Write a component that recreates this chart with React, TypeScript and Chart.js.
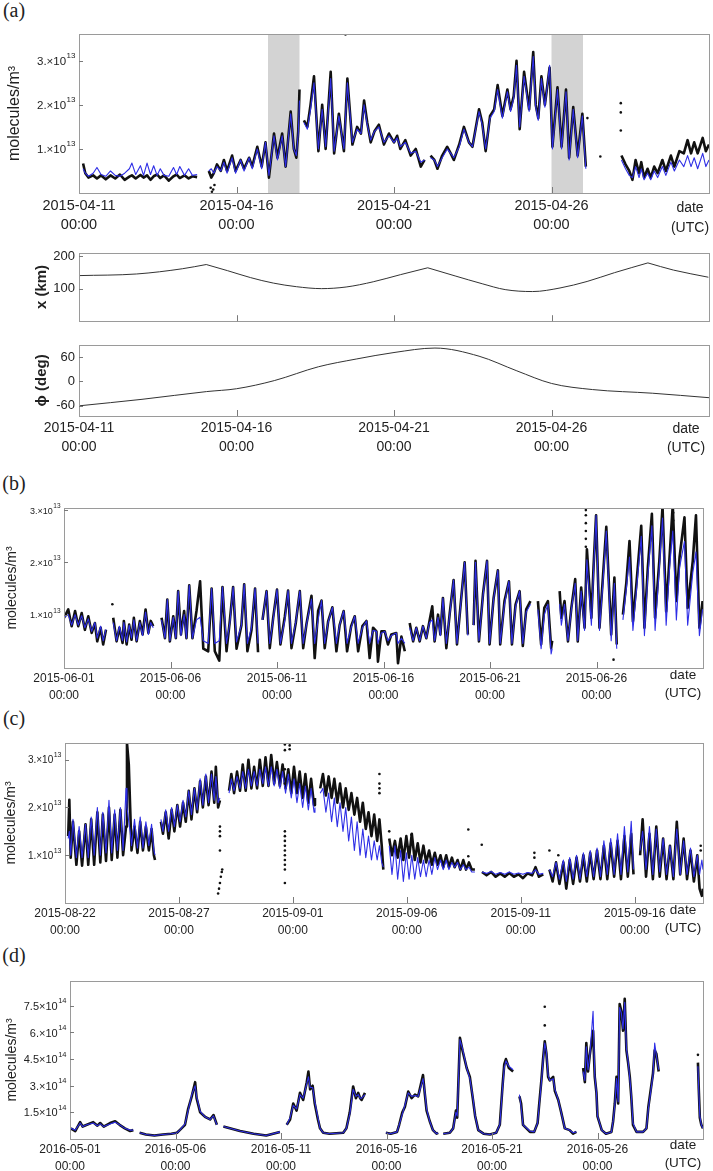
import React, { useEffect, useRef } from 'react';
import { Chart, registerables } from 'chart.js';

Chart.register(...registerables);

const FONT = "'Liberation Sans', Arial, Helvetica, sans-serif";
const SERIF = "'Liberation Serif', 'Times New Roman', serif";
const BLACK = '#111111';
const BLUE = '#2e2ee6';
const TEXT = '#222222';
const TICK_TIME = '00:00';

// ---------- (a) April 2015, values in 10^13 molecules/m^3, x in days from 2015-04-11 ----------
const aTickDays = [0, 5, 10, 15];
const aTickDates = ['2015-04-11', '2015-04-16', '2015-04-21', '2015-04-26'];
const aShade = [[6, 7], [15, 16]];
const aDays = [
  0.13, 0.2, 0.3, 0.45, 0.57, 0.7, 0.85, 1.0, 1.15, 1.3, 1.45, 1.6, 1.68, 1.8, 1.95, 2.05, 2.16, 2.27, 2.37, 2.48, 2.58, 2.7, 2.85, 3.0, 3.1, 3.2, 3.35, 3.48, 3.6, 3.75,
  3.9,
  4.12, 4.2, 4.28, 4.38, 4.5, 4.6, 4.7, 4.86, 4.97, 5.13, 5.24, 5.4, 5.5, 5.66, 5.8, 5.92, 6.03, 6.19, 6.3, 6.45, 6.56, 6.72, 6.82, 6.9, 6.96, 7.0,
  7.07,
  7.14, 7.25, 7.35, 7.46, 7.53, 7.6, 7.72, 7.83, 7.99, 8.1, 8.25, 8.41, 8.52, 8.68, 8.83, 8.95, 9.05, 9.15, 9.26, 9.38, 9.52, 9.68, 9.84, 10.0, 10.1, 10.2, 10.36, 10.53, 10.69, 10.85, 10.97,
  11.06,
  11.16, 11.28, 11.38, 11.53, 11.69, 11.8, 11.9, 12.07, 12.22, 12.38, 12.49, 12.7, 12.8, 12.91, 13.05, 13.18, 13.29, 13.44, 13.6, 13.7, 13.8, 13.89, 13.99, 14.13, 14.29, 14.42, 14.5, 14.58, 14.68, 14.79, 14.94, 15.03, 15.19, 15.32, 15.46, 15.56, 15.69, 15.83, 15.98, 16.09,
  16.6,
  17.22, 17.35, 17.47, 17.57, 17.67, 17.78, 17.85, 17.94, 18.05, 18.15, 18.26, 18.37, 18.52, 18.63, 18.79, 18.9, 19.06, 19.2, 19.32, 19.43, 19.53, 19.64, 19.8, 19.9, 20.0,
];
const aObs = [
  0.67, 0.45, 0.35, 0.40, 0.33, 0.40, 0.31, 0.40, 0.33, 0.42, 0.30, 0.37, 0.40, 0.33, 0.41, 0.35, 0.40, 0.30, 0.38, 0.42, 0.34, 0.40, 0.28, 0.38, 0.42, 0.34, 0.40, 0.33, 0.38, 0.36,
  null,
  0.5, 0.35, 0.45, 0.65, 0.5, 0.75, 0.5, 0.85, 0.5, 0.75, 0.55, 0.8, 0.6, 1.05, 0.6, 1.15, 0.35, 1.35, 0.8, 1.35, 0.6, 1.85, 1.0, 0.8, 1.4, 2.35,
  null,
  1.65, 1.5, 2.0, 2.65, 1.8, 0.95, 2.0, 1.0, 2.75, 0.9, 1.8, 0.95, 2.6, 1.1, 1.5, 1.35, 2.1, 1.6, 1.15, 1.4, 1.55, 1.1, 1.35, 1.15, 1.3, 1.0, 1.2, 0.85, 1.0, 0.6, 0.75,
  null,
  0.85, 0.75, 0.55, 0.85, 1.05, 0.9, 0.75, 1.1, 1.5, 1.15, 1.05, 1.9, 1.6, 0.95, 1.75, 1.9, 2.45, 1.75, 2.35, 1.9, 2.2, 3.0, 1.45, 2.75, 1.9, 3.2, 2.0, 1.7, 2.65, 2.0, 2.85, 1.05, 2.4, 1.05, 2.35, 0.8, 1.95, 0.85, 1.8, 0.6,
  null,
  0.85, 0.65, 0.5, 0.3, 0.75, 0.45, 0.7, 0.35, 0.55, 0.35, 0.6, 0.45, 0.75, 0.5, 0.85, 0.6, 0.95, 0.9, 1.2, 0.9, 1.15, 0.9, 1.25, 0.95, 1.1,
];
const aModel = [
  0.55, 0.45, 0.38, 0.45, 0.58, 0.42, 0.38, 0.50, 0.40, 0.38, 0.45, 0.55, 0.68, 0.42, 0.62, 0.40, 0.68, 0.42, 0.62, 0.40, 0.55, 0.40, 0.38, 0.58, 0.42, 0.60, 0.40, 0.55, 0.40, 0.42,
  null,
  0.5, 0.55, 0.45, 0.6, 0.5, 0.7, 0.45, 0.8, 0.45, 0.75, 0.5, 0.8, 0.55, 1.0, 0.55, 1.15, 0.4, 1.3, 0.75, 1.3, 0.6, 1.8, 1.0, 0.85, 1.35, 2.1,
  null,
  1.6, 1.45, 1.9, 2.5, 1.75, 1.0, 1.9, 1.05, 2.6, 0.95, 1.75, 1.0, 2.5, 1.15, 1.45, 1.35, 2.0, 1.55, 1.2, 1.4, 1.5, 1.15, 1.3, 1.15, 1.25, 1.05, 1.15, 0.9, 0.95, 0.7, 0.75,
  null,
  0.8, 0.75, 0.6, 0.8, 1.0, 0.9, 0.8, 1.05, 1.45, 1.15, 1.05, 1.85, 1.55, 1.0, 1.7, 1.85, 2.35, 1.7, 2.3, 1.85, 2.15, 2.9, 1.5, 2.65, 1.85, 3.1, 1.95, 1.65, 2.6, 1.95, 2.9, 1.0, 2.35, 1.0, 2.3, 0.75, 1.9, 0.8, 1.75, 0.55,
  null,
  0.75, 0.55, 0.4, 0.35, 0.6, 0.35, 0.55, 0.3, 0.45, 0.3, 0.5, 0.35, 0.6, 0.4, 0.7, 0.5, 0.75, 0.6, 0.85, 0.6, 0.8, 0.55, 0.9, 0.6, 0.75,
];
const aOutDays = [4.18, 4.22, 4.26, 4.3, 8.46, 16.14, 16.55, 17.2, 17.2, 17.2];
const aOutVals = [0.12, 0.03, 0.08, 0.18, 3.6, 1.7, 0.83, 2.04, 1.83, 1.42];

// distance x (km) and angle phi (deg) over the same April window
const kmDays = [0, 1.83, 3.28, 4.04, 4.04, 4.04, 4.72, 5.44, 6.17, 6.9, 7.7, 8.48, 9.34, 10.21, 11.07, 11.07, 11.07, 11.94, 12.8, 13.53, 14.4, 15.27, 16.13, 17.0, 18.06, 18.06, 18.06, 18.87, 19.98];
const kmVals = [140, 145, 161, 174, null, 174, 155, 134, 117, 106, 100, 105, 121, 143, 164, null, 164, 139, 115, 97, 91, 102, 122, 149, 179, null, 179, 157, 135];
const phiDays = [0, 2, 4.05, 5.0, 6.2, 7.6, 8.8, 10.0, 11.3, 12.7, 13.9, 15.0, 16.3, 18.2, 20.0];
const phiVals = [-60, -44, -25, -18, 2, 36, 55, 71, 82, 62, 26, -5, -20, -29, -40];

// ---------- (b) June 2015, 10^13 molecules/m^3 ----------
const bTickDays = [0, 5, 10, 15, 20, 25];
const bTickDates = ['2015-06-01', '2015-06-06', '2015-06-11', '2015-06-16', '2015-06-21', '2015-06-26'];
const bDays = [
  0, 0.2, 0.36, 0.52, 0.67, 0.83, 0.98, 1.14, 1.3, 1.45, 1.56, 1.72, 1.84, 1.97,
  2.1,
  2.31, 2.47, 2.6, 2.75, 2.81, 2.94, 3.06, 3.17, 3.28, 3.41, 3.56, 3.69, 3.83, 3.96, 4.07, 4.19,
  4.35,
  4.58, 4.74, 4.85, 4.97, 5.13, 5.25, 5.36, 5.49, 5.64, 5.75, 5.88, 6.03, 6.22, 6.39, 6.54, 6.77, 6.93, 7.08, 7.29, 7.44, 7.63, 7.79, 7.94, 8.1, 8.33, 8.46, 8.61, 8.8, 8.97, 9.11,
  9.22,
  9.32, 9.51, 9.66, 9.82, 10.0, 10.16, 10.37, 10.52, 10.68, 10.88, 11.07, 11.23, 11.38, 11.62, 11.77, 11.93, 12.09, 12.24, 12.4, 12.6, 12.79, 12.94, 13.13, 13.29, 13.48, 13.65, 13.81, 14.01, 14.2, 14.35, 14.51, 14.67, 14.74, 14.9, 15.06, 15.21, 15.37, 15.6, 15.68, 15.84, 16.0,
  16.1,
  16.23, 16.39, 16.54, 16.7, 16.85, 17.01, 17.16, 17.29, 17.4, 17.56, 17.67, 17.79, 17.95, 18.11, 18.29, 18.45, 18.65, 18.81, 18.96,
  19.1,
  19.23, 19.32, 19.48, 19.67, 19.86, 19.98, 20.17, 20.37, 20.48, 20.68, 20.89, 21.03, 21.2, 21.39, 21.54, 21.7, 21.9,
  22.05,
  22.25, 22.4, 22.55, 22.72, 22.87, 22.92,
  23.1,
  23.27, 23.35, 23.5, 23.66, 23.82, 24.0, 24.12, 24.28, 24.44, 24.55, 24.76, 24.86, 24.98, 25.14, 25.3, 25.46, 25.69, 25.84, 25.95,
  26.1,
  26.24, 26.4, 26.55, 26.71, 26.86, 27.1, 27.25, 27.41, 27.6, 27.75, 27.95, 28.1, 28.27, 28.43, 28.58, 28.75, 28.9, 29.13, 29.28, 29.52, 29.67, 29.83, 29.98,
];
const bObs = [
  0.94, 1.1, 0.78, 1.07, 0.78, 1.03, 0.71, 0.97, 0.65, 0.84, 0.49, 0.75, 0.43, 0.71,
  null,
  0.94, 0.49, 0.75, 0.46, 0.88, 0.43, 0.81, 0.52, 0.94, 0.49, 0.88, 0.62, 1.1, 0.65, 0.88, 0.78,
  null,
  0.94, 0.55, 1.29, 0.49, 0.97, 0.55, 1.45, 0.62, 1.07, 0.55, 1.56, 0.55, 1.07, 1.64, 0.35, 0.3, 1.5, 0.3, 0.12, 1.53, 0.3, 0.9, 1.53, 0.35, 0.8, 1.58, 0.3, 0.7, 1.5, 0.28,
  null,
  0.9, 1.45, 0.36, 0.94, 1.48, 0.43, 0.97, 1.46, 0.36, 0.84, 1.45, 0.36, 0.81, 1.36, 0.17, 1.07, 1.27, 0.36, 0.87, 1.14, 0.3, 0.8, 1.07, 0.3, 0.78, 0.97, 0.3, 0.78, 0.88, 0.17, 0.75, 0.68, 0.1, 0.68, 0.68, 0.43, 0.62, 0.65, 0.07, 0.58, 0.3,
  null,
  0.84, 0.49, 0.75, 0.49, 0.78, 0.55, 0.88, 1.16, 0.49, 1.0, 0.62, 1.32, 0.36, 1.03, 1.66, 0.43, 1.32, 2.0, 0.62,
  null,
  0.8, 2.03, 0.49, 1.39, 2.03, 0.43, 1.32, 1.85, 0.43, 1.26, 1.64, 0.43, 1.19, 1.45, 0.4, 1.1, 1.26,
  null,
  1.26, 0.43, 1.13, 1.26, 0.36, 0.5,
  null,
  1.45, 0.94, 1.26, 0.49, 1.13, 1.68, 0.49, 1.52, 0.75, 2.25, 0.94, 1.9, 2.9, 0.75, 1.71, 2.68, 0.62, 1.71, 0.43,
  null,
  1.0, 1.61, 2.41, 0.87, 1.52, 2.7, 0.75, 1.9, 2.93, 0.94, 2.03, 3.07, 1.06, 2.1, 3.1, 1.26, 2.1, 2.86, 1.13, 2.03, 2.9, 0.75, 1.26,
];
const bModel = [
  0.95, 1.0, 0.8, 1.0, 0.8, 0.98, 0.75, 0.92, 0.68, 0.85, 0.55, 0.78, 0.5, 0.72,
  null,
  0.85, 0.5, 0.78, 0.5, 0.85, 0.48, 0.8, 0.55, 0.9, 0.5, 0.85, 0.6, 1.05, 0.62, 0.85, 0.75,
  null,
  0.9, 0.55, 1.29, 0.5, 0.95, 0.55, 1.45, 0.6, 1.0, 0.55, 1.56, 0.55, 0.9, 0.95, 0.5, 0.45, 1.5, 0.45, 0.5, 1.53, 0.45, 0.85, 1.53, 0.48, 0.8, 1.58, 0.45, 0.75, 1.5, 0.45,
  null,
  0.9, 1.45, 0.45, 0.9, 1.48, 0.45, 0.9, 1.46, 0.45, 0.85, 1.45, 0.45, 0.8, 1.3, 0.45, 0.9, 1.27, 0.45, 0.85, 1.14, 0.45, 0.8, 1.07, 0.45, 0.75, 0.97, 0.45, 0.75, 0.88, 0.45, 0.7, 0.68, 0.45, 0.65, 0.68, 0.5, 0.6, 0.65, 0.45, 0.55, 0.45,
  null,
  0.75, 0.5, 0.75, 0.5, 0.78, 0.55, 0.85, 0.9, 0.5, 0.95, 0.6, 1.32, 0.45, 1.0, 1.66, 0.45, 1.3, 2.0, 0.6,
  null,
  0.8, 2.0, 0.5, 1.35, 2.03, 0.45, 1.3, 1.85, 0.45, 1.2, 1.64, 0.45, 1.15, 1.45, 0.45, 1.05, 1.2,
  null,
  1.1, 0.35, 1.0, 1.2, 0.25, 0.35,
  null,
  1.2, 0.8, 1.2, 0.5, 1.1, 1.6, 0.5, 1.45, 0.7, 2.05, 0.8, 1.8, 2.9, 0.7, 1.6, 2.6, 0.5, 1.6, 0.35,
  null,
  0.9, 1.5, 2.1, 0.7, 1.4, 2.5, 0.6, 1.75, 2.7, 0.7, 1.9, 2.85, 0.8, 1.9, 2.6, 0.9, 1.9, 2.4, 0.8, 1.8, 2.2, 0.6, 1.1,
];
const bOutDays = [2.27, 24.5, 24.5, 24.5, 24.5, 24.5, 24.5, 25.8, 28.6, 28.6];
const bOutVals = [1.2, 2.3, 2.45, 2.6, 2.75, 2.9, 3.0, 0.14, 2.8, 2.95];

// ---------- (c) August-September 2015, 10^13 molecules/m^3 ----------
const cTickDays = [0, 5, 10, 15, 20, 25];
const cTickDates = ['2015-08-22', '2015-08-27', '2015-09-01', '2015-09-06', '2015-09-11', '2015-09-16'];
const cDays = [
  0.14, 0.19, 0.25, 0.35, 0.5, 0.62, 0.75, 0.9, 1.02, 1.15, 1.28, 1.42, 1.55, 1.66, 1.8, 1.93, 2.05, 2.18, 2.3, 2.43, 2.55, 2.68, 2.72, 2.8, 2.86, 2.92, 3.05, 3.18, 3.3, 3.42, 3.55, 3.68, 3.8, 3.9, 3.95,
  4.05,
  4.21, 4.3, 4.42, 4.55, 4.68, 4.8, 4.93, 5.05, 5.18, 5.3, 5.43, 5.55, 5.68, 5.8, 5.93, 6.05, 6.18, 6.3, 6.43, 6.55, 6.62, 6.72, 6.8,
  6.95,
  7.2, 7.3, 7.42, 7.55, 7.68, 7.8, 7.93, 8.05, 8.18, 8.3, 8.43, 8.55, 8.68, 8.8, 8.93, 9.05, 9.18, 9.3, 9.43, 9.55, 9.68, 9.8, 9.93, 10.05, 10.18, 10.3, 10.43, 10.55, 10.68, 10.8, 10.93, 10.97,
  11.08,
  11.2, 11.32, 11.45, 11.57, 11.7, 11.82, 11.95, 12.07, 12.2, 12.32, 12.45, 12.57, 12.7, 12.82, 12.95, 13.07, 13.2, 13.32, 13.45, 13.57, 13.7, 13.8, 13.9, 13.97,
  14.1,
  14.23, 14.35, 14.48, 14.6, 14.73, 14.85, 14.98, 15.1, 15.22, 15.35, 15.48, 15.6, 15.73, 15.85, 15.98, 16.1, 16.23, 16.35, 16.48, 16.6, 16.73, 16.85, 16.98, 17.1, 17.23, 17.35, 17.48, 17.6, 17.73, 17.85, 17.99,
  18.1,
  18.3, 18.5, 18.7, 18.9, 19.1, 19.3, 19.5, 19.7, 19.9, 20.1, 20.3, 20.5, 20.65, 20.8, 20.99,
  21.1,
  21.26, 21.4, 21.55, 21.7, 21.87, 22.0, 22.15, 22.3, 22.45, 22.6, 22.75, 22.9, 23.05, 23.2, 23.35, 23.5, 23.65, 23.8, 23.95, 24.1, 24.25, 24.4, 24.55, 24.7, 24.85, 24.95,
  25.1,
  25.24, 25.35, 25.5, 25.65, 25.8, 25.95, 26.1, 26.25, 26.4, 26.55, 26.7, 26.85, 27.0, 27.15, 27.3, 27.45, 27.6, 27.75, 27.85, 27.95, 28.0,
];
const cObs = [
  1.4, 2.16, 0.95, 1.7, 0.8, 1.5, 0.78, 1.65, 0.8, 1.75, 0.8, 1.9, 0.85, 1.85, 0.88, 2.0, 0.9, 1.85, 0.95, 1.95, 1.0, 1.6, 3.35, 2.9, 2.0, 1.1, 1.6, 1.05, 1.7, 1.1, 1.6, 1.1, 1.55, 1.0, 0.9,
  null,
  1.7, 1.45, 1.9, 1.35, 1.95, 1.5, 2.05, 1.6, 2.1, 1.7, 2.35, 1.75, 2.4, 1.9, 2.55, 2.0, 2.65, 2.05, 2.75, 2.1, 2.85, 2.0, 2.15,
  null,
  2.35, 2.7, 2.3, 2.75, 2.35, 2.9, 2.35, 3.0, 2.4, 2.85, 2.4, 3.0, 2.45, 3.05, 2.45, 3.1, 2.5, 2.95, 2.45, 2.9, 2.4, 2.8, 2.3, 2.85, 2.3, 2.75, 2.2, 2.7, 2.1, 2.6, 2.05, 2.2,
  null,
  2.4, 2.7, 2.25, 2.65, 2.2, 2.6, 2.1, 2.5, 2.0, 2.4, 1.95, 2.3, 1.85, 2.2, 1.7, 2.1, 1.55, 1.9, 1.4, 1.85, 1.3, 1.75, 1.2, 0.7,
  null,
  1.35, 1.0, 1.3, 0.95, 1.35, 0.9, 1.4, 0.95, 1.45, 0.9, 1.25, 0.85, 1.2, 0.85, 1.1, 0.8, 1.05, 0.8, 1.0, 0.75, 1.0, 0.75, 0.95, 0.75, 0.9, 0.7, 0.9, 0.7, 0.85, 0.7, 0.7,
  null,
  0.65, 0.58, 0.65, 0.55, 0.62, 0.55, 0.63, 0.55, 0.6, 0.52, 0.62, 0.58, 0.75, 0.55, 0.6,
  null,
  0.7, 0.45, 0.85, 0.4, 0.85, 0.3, 0.9, 0.4, 0.95, 0.45, 1.0, 0.45, 1.05, 0.5, 1.1, 0.5, 1.2, 0.5, 1.25, 0.55, 1.3, 0.5, 1.4, 0.55, 1.45, 0.6,
  null,
  1.0, 1.75, 0.55, 1.45, 0.5, 1.6, 0.55, 1.35, 0.5, 1.2, 0.5, 1.7, 0.6, 1.35, 0.5, 1.1, 0.45, 1.0, 0.3, 0.15, 0.3,
];
const cModel = [
  1.35, 1.5, 1.0, 1.75, 0.95, 1.6, 0.95, 1.65, 0.95, 1.8, 1.0, 2.0, 1.0, 1.9, 1.05, 2.15, 1.05, 1.95, 1.1, 2.0, 1.1, 2.4, 2.0, 1.7, 1.5, 1.2, 1.75, 1.15, 1.8, 1.15, 1.7, 1.2, 1.65, 1.1, 1.0,
  null,
  1.75, 1.5, 1.95, 1.5, 2.0, 1.6, 2.05, 1.7, 2.15, 1.8, 2.35, 1.85, 2.4, 1.95, 2.6, 2.05, 2.7, 2.1, 2.7, 2.15, 2.65, 2.1, 2.2,
  null,
  2.3, 2.6, 2.35, 2.65, 2.4, 2.75, 2.4, 2.8, 2.45, 2.75, 2.45, 2.8, 2.5, 2.85, 2.45, 2.85, 2.45, 2.8, 2.4, 2.75, 2.3, 2.7, 2.2, 2.6, 2.1, 2.5, 2.0, 2.45, 1.95, 2.4, 1.9, 2.0,
  null,
  2.3, 2.4, 1.9, 2.3, 1.7, 2.2, 1.6, 2.1, 1.5, 2.0, 1.3, 1.8, 1.1, 1.7, 1.0, 1.55, 0.95, 1.4, 0.9, 1.3, 0.9, 1.2, 0.85, 0.75,
  null,
  1.2, 0.6, 1.2, 0.5, 1.1, 0.45, 1.05, 0.5, 1.0, 0.5, 0.95, 0.55, 0.9, 0.55, 0.9, 0.6, 0.95, 0.7, 0.9, 0.7, 0.9, 0.7, 0.85, 0.75, 0.85, 0.7, 0.8, 0.7, 0.75, 0.65, 0.65,
  null,
  0.65, 0.62, 0.66, 0.6, 0.64, 0.6, 0.65, 0.6, 0.63, 0.6, 0.64, 0.62, 0.7, 0.6, 0.62,
  null,
  0.7, 0.55, 0.85, 0.5, 0.9, 0.45, 0.95, 0.5, 1.0, 0.5, 1.05, 0.55, 1.1, 0.55, 1.15, 0.55, 1.3, 0.6, 1.35, 0.6, 1.45, 0.6, 1.6, 0.65, 1.71, 0.7,
  null,
  1.1, 1.5, 0.7, 1.6, 0.6, 1.55, 0.65, 1.35, 0.6, 1.2, 0.55, 1.55, 0.6, 1.3, 0.6, 1.15, 0.55, 1.0, 0.6, 0.9, 0.7,
];
const cOutDays = [
  6.72, 6.76, 6.8, 6.84, 6.88, 6.9, 6.8, 6.8, 6.8, 6.8,
  9.65, 9.65, 9.65, 9.65, 9.65, 9.65, 9.65, 9.65, 9.65, 9.65, 9.65, 9.65, 9.65, 9.65, 9.86, 9.86,
  13.8, 13.8, 13.8, 13.8, 14.23, 15.2, 17.7, 17.7, 18.29, 20.6, 20.6, 21.26, 21.65, 27.9, 27.9,
];
const cOutVals = [
  0.2, 0.3, 0.42, 0.55, 0.65, 0.7, 1.1, 1.4, 1.5, 1.6,
  3.32, 3.2, 2.8, 2.5, 1.5, 1.4, 1.3, 1.2, 1.1, 1.0, 0.9, 0.8, 0.7, 0.42, 3.3, 3.22,
  2.7, 2.5, 2.4, 2.3, 1.5, 1.43, 1.54, 0.98, 1.22, 1.05, 0.95, 1.1, 1.0, 1.1, 1.2,
];

// ---------- (d) May 2016, 10^14 molecules/m^3 ----------
const dTickDays = [0, 5, 10, 15, 20, 25];
const dTickDates = ['2016-05-01', '2016-05-06', '2016-05-11', '2016-05-16', '2016-05-21', '2016-05-26'];
const dDays = [
  0.04, 0.25, 0.48, 0.6, 0.8, 1.1, 1.3, 1.43, 1.6, 1.9, 2.14, 2.35, 2.6, 2.85, 3.0,
  3.15,
  3.3, 3.6, 4.0, 4.4, 4.8, 5.07, 5.2, 5.45, 5.6, 5.77, 5.93, 6.0, 6.17, 6.4, 6.64, 6.8, 6.96,
  7.1,
  7.27, 7.75, 8.06, 8.7, 9.3, 9.95,
  10.1,
  10.27, 10.43, 10.58, 10.74, 10.9, 11.05, 11.22, 11.3, 11.38, 11.5, 11.6, 11.75, 11.85, 12.0, 12.3, 12.95, 13.1, 13.26, 13.42, 13.55, 13.66, 13.75, 13.82, 13.98,
  14.4,
  14.97, 15.2, 15.5, 15.6, 15.75, 15.87, 16.03, 16.19, 16.35, 16.5, 16.73, 16.82, 16.9, 17.05, 17.2, 17.37, 17.45,
  17.55,
  17.69, 18.0, 18.16, 18.29, 18.35, 18.48, 18.6, 18.8, 18.95, 19.1, 19.2, 19.35, 19.6, 19.9, 20.2, 20.37, 20.5, 20.58, 20.66, 20.8, 21.0,
  21.15,
  21.3, 21.38, 21.47, 21.8, 22.0, 22.16, 22.24, 22.34, 22.42, 22.5, 22.58, 22.66, 22.74, 22.9, 22.98, 23.14, 23.28, 23.45, 23.68, 23.84, 24.0,
  24.15,
  24.32, 24.4, 24.47, 24.55, 24.63, 24.79, 24.87, 24.95, 25.0, 25.2, 25.4, 25.66, 25.74, 25.82, 25.9, 25.98, 26.05, 26.13, 26.21, 26.29, 26.37, 26.45, 26.53, 26.6, 26.68, 26.85, 27.16, 27.32, 27.41, 27.63, 27.71, 27.79, 27.9,
  28.0,
  29.76, 29.8, 29.85, 29.92, 30.0,
];
const dObs = [
  0.6, 0.45, 0.95, 0.7, 0.8, 0.95, 0.75, 0.9, 0.7, 0.9, 1.0, 0.8, 0.6, 0.45, 0.5,
  null,
  0.35, 0.25, 0.2, 0.25, 0.3, 0.35, 0.5, 0.8, 1.7, 2.4, 3.2, 2.3, 1.5, 1.25, 1.1, 1.35, 0.8,
  null,
  0.7, 0.55, 0.45, 0.3, 0.2, 0.4,
  null,
  0.8, 1.1, 2.0, 1.6, 2.6, 2.2, 3.2, 3.8, 2.8, 3.0, 2.0, 1.1, 0.6, 0.35, 0.3, 0.35, 0.6, 1.5, 2.96, 2.3, 2.6, 2.3, 2.2, 2.6,
  null,
  0.35, 0.3, 0.4, 0.8, 1.5, 1.8, 2.67, 2.3, 2.5, 2.4, 3.6, 2.5, 1.6, 1.0, 0.5, 0.3, 0.35,
  null,
  0.3, 0.35, 0.6, 1.6, 1.2, 5.7, 5.0, 4.0, 3.5, 2.2, 1.3, 0.5, 0.3, 0.25, 0.35, 0.8, 3.0, 4.2, 4.5, 4.0, 3.8,
  null,
  2.4, 2.0, 0.8, 0.4, 0.4, 0.9, 2.0, 3.3, 4.5, 5.5, 4.8, 3.5, 3.3, 3.5, 2.7, 2.2, 1.5, 0.6, 0.5, 0.3, 0.4,
  null,
  4.0, 3.2, 5.4, 3.8, 4.7, 6.1, 3.5, 2.6, 1.27, 0.5, 0.3, 0.4, 1.0, 2.0, 3.5, 2.0, 7.6, 7.2, 6.1, 7.9, 5.0, 4.3, 3.5, 2.4, 0.8, 0.4, 0.4, 0.6, 1.8, 3.7, 5.0, 4.8, 3.8,
  null,
  4.3, 2.8, 1.2, 0.8, 0.6,
];
const dModel = [
  0.6, 0.5, 0.9, 0.7, 0.8, 0.9, 0.75, 0.85, 0.7, 0.85, 0.95, 0.8, 0.6, 0.5, 0.5,
  null,
  0.35, 0.25, 0.2, 0.25, 0.3, 0.35, 0.5, 0.85, 1.6, 2.5, 3.0, 2.4, 1.55, 1.25, 1.1, 1.3, 0.8,
  null,
  0.7, 0.55, 0.45, 0.3, 0.2, 0.4,
  null,
  0.8, 1.2, 1.9, 1.7, 2.5, 2.3, 3.1, 3.5, 2.9, 2.9, 2.1, 1.2, 0.6, 0.35, 0.3, 0.35, 0.6, 1.4, 2.8, 2.4, 2.5, 2.3, 2.3, 2.5,
  null,
  0.35, 0.3, 0.4, 0.8, 1.4, 1.9, 2.6, 2.4, 2.45, 2.4, 3.4, 2.6, 1.7, 1.0, 0.5, 0.3, 0.35,
  null,
  0.3, 0.35, 0.6, 1.5, 1.3, 5.6, 5.1, 4.0, 3.4, 2.3, 1.3, 0.5, 0.3, 0.25, 0.35, 0.8, 2.9, 4.0, 4.4, 4.1, 3.9,
  null,
  2.5, 1.8, 0.8, 0.45, 0.4, 0.9, 1.9, 3.2, 4.4, 5.4, 4.9, 3.6, 3.3, 3.4, 2.8, 2.2, 1.5, 0.6, 0.5, 0.35, 0.4,
  null,
  3.8, 3.3, 5.2, 3.9, 4.6, 7.2, 3.6, 2.6, 1.3, 0.5, 0.3, 0.4, 1.0, 1.9, 3.4, 2.1, 7.4, 7.1, 6.2, 7.7, 5.1, 4.4, 3.4, 2.5, 0.9, 0.4, 0.4, 0.6, 1.7, 3.6, 5.4, 4.7, 3.9,
  null,
  4.1, 2.7, 1.3, 0.8, 0.6,
];
const dOutDays = [22.5, 22.5, 29.76];
const dOutVals = [7.45, 6.4, 4.74];

// ---------- drawing helpers ----------
type Sci = { values: number[]; mantissas: string[]; exp: string; base: number; sup: number };

interface PanelSpec {
  top: number;
  height: number;
  area: { l: number; t: number; r: number; b: number };
  xMax: number;
  tickDays: number[];
  tickDates: string[] | null;
  xFont: number;
  yMin: number;
  yMax: number;
  yTicks: number[];
  yTickFont: number;
  sci: Sci | null;
  yTitle: string;
  yTitleFont: number;
  yTitleBold: boolean;
  yTitlePad: number;
  shade: number[][] | null;
  datasets: any[];
}

function pts(days: number[], vals: (number | null)[]) {
  return days.map((d, i) => ({ x: d, y: vals[i] ?? null }));
}

function measurementSets(days: number[], obs: (number | null)[], model: (number | null)[], outDays: number[], outVals: number[]) {
  return [
    { data: pts(outDays, outVals), showLine: false, pointRadius: 1.3, pointBorderWidth: 0, pointBackgroundColor: BLACK, borderColor: BLACK, order: 0 },
    { data: pts(days, model), borderColor: BLUE, borderWidth: 1.1, pointRadius: 0, borderJoinStyle: 'round', order: 1 },
    { data: pts(days, obs), borderColor: BLACK, borderWidth: 2.6, pointRadius: 0, borderJoinStyle: 'round', order: 2 },
  ];
}

function curveSet(days: number[], vals: (number | null)[]) {
  return [{ data: pts(days, vals), borderColor: '#333', borderWidth: 1, pointRadius: 0, cubicInterpolationMode: 'monotone', tension: 0.4 }];
}

const framePlugin = {
  id: 'frame',
  beforeDatasetsDraw(chart: any, _args: any, o: any) {
    if (!o.shade) return;
    const { ctx, chartArea: a, scales } = chart;
    ctx.save();
    ctx.fillStyle = '#d3d3d3';
    for (const [s, e] of o.shade) {
      const x1 = scales.x.getPixelForValue(s);
      const x2 = scales.x.getPixelForValue(e);
      ctx.fillRect(x1, a.top, x2 - x1, a.bottom - a.top);
    }
    ctx.restore();
  },
  afterDraw(chart: any, _args: any, o: any) {
    const { ctx, chartArea: a, scales } = chart;
    ctx.save();
    ctx.lineWidth = 1;
    ctx.strokeStyle = '#9a9a9a';
    ctx.strokeRect(Math.round(a.left) + 0.5, Math.round(a.top) + 0.5, Math.round(a.right - a.left), Math.round(a.bottom - a.top));
    ctx.strokeStyle = '#7a7a7a';
    ctx.beginPath();
    for (const d of o.xTicks) {
      if (d <= scales.x.min || d >= scales.x.max) continue;
      const px = Math.round(scales.x.getPixelForValue(d)) + 0.5;
      ctx.moveTo(px, a.bottom);
      ctx.lineTo(px, a.bottom - 6);
    }
    for (const v of o.yTicks) {
      const py = Math.round(scales.y.getPixelForValue(v)) + 0.5;
      ctx.moveTo(a.left, py);
      ctx.lineTo(a.left + 4, py);
    }
    ctx.stroke();
    const sci: Sci | null = o.sci;
    if (sci) {
      ctx.fillStyle = TEXT;
      ctx.textBaseline = 'middle';
      ctx.textAlign = 'left';
      sci.values.forEach((v, i) => {
        const py = scales.y.getPixelForValue(v);
        const baseText = sci.mantissas[i] + '\u00d710';
        ctx.font = `${sci.base}px ${FONT}`;
        const wb = ctx.measureText(baseText).width;
        ctx.font = `${sci.sup}px ${FONT}`;
        const ws = ctx.measureText(sci.exp).width;
        const x0 = a.left - 4 - ws - wb;
        ctx.font = `${sci.base}px ${FONT}`;
        ctx.fillText(baseText, x0, py + 1);
        ctx.font = `${sci.sup}px ${FONT}`;
        ctx.fillText(sci.exp, x0 + wb + 0.5, py - sci.base * 0.42);
      });
    }
    ctx.restore();
  },
};

function buildChart(canvas: HTMLCanvasElement, s: PanelSpec) {
  return new Chart(canvas, {
    type: 'line',
    data: { datasets: s.datasets },
    options: {
      responsive: false,
      animation: false,
      devicePixelRatio: 1,
      events: [],
      layout: { padding: { top: s.area.t - s.top, right: 713 - s.area.r, left: 0, bottom: 0 } },
      plugins: {
        legend: { display: false },
        tooltip: { enabled: false },
        frame: { shade: s.shade, xTicks: s.tickDays, yTicks: s.yTicks, sci: s.sci },
      },
      scales: {
        x: {
          type: 'linear',
          min: 0,
          max: s.xMax,
          grid: { display: false, drawTicks: false },
          border: { display: false },
          afterBuildTicks: (sc: any) => {
            sc.ticks = s.tickDays.map((v) => ({ value: v }));
          },
          afterFit: (sc: any) => {
            sc.height = s.top + s.height - s.area.b;
          },
          ticks: {
            display: !!s.tickDates,
            autoSkip: false,
            maxRotation: 0,
            minRotation: 0,
            padding: 3,
            color: TEXT,
            font: { family: FONT, size: s.xFont, lineHeight: 1.35 },
            callback: (v: any) => {
              const i = s.tickDays.indexOf(Number(v));
              return i >= 0 && s.tickDates ? [s.tickDates[i], TICK_TIME] : '';
            },
          },
        },
        y: {
          type: 'linear',
          min: s.yMin,
          max: s.yMax,
          grid: { display: false, drawTicks: false },
          border: { display: false },
          afterBuildTicks: (sc: any) => {
            sc.ticks = s.yTicks.map((v) => ({ value: v }));
          },
          afterFit: (sc: any) => {
            sc.width = s.area.l;
          },
          ticks: {
            display: !s.sci,
            padding: 4,
            color: TEXT,
            font: { family: FONT, size: s.yTickFont },
          },
          title: {
            display: true,
            text: s.yTitle,
            color: TEXT,
            padding: { top: s.yTitlePad, bottom: 0 },
            font: { family: FONT, size: s.yTitleFont, weight: s.yTitleBold ? 'bold' : 'normal', lineHeight: 1.2 },
          },
        },
      },
    } as any,
    plugins: [framePlugin as any],
  });
}

const MOL = 'molecules/m\u00b3';

const panels: PanelSpec[] = [
  {
    top: 22, height: 218, area: { l: 79, t: 34, r: 709, b: 193 }, xMax: 20,
    tickDays: aTickDays, tickDates: aTickDates, xFont: 14.5,
    yMin: 0, yMax: 3.61, yTicks: [1, 2, 3], yTickFont: 12,
    sci: { values: [1, 2, 3], mantissas: ['1.', '2.', '3.'], exp: '13', base: 11.5, sup: 8 },
    yTitle: MOL, yTitleFont: 16, yTitleBold: false, yTitlePad: 5, shade: aShade,
    datasets: measurementSets(aDays, aObs, aModel, aOutDays, aOutVals),
  },
  {
    top: 241, height: 92, area: { l: 79, t: 249, r: 709, b: 328 }, xMax: 20,
    tickDays: aTickDays, tickDates: null, xFont: 14,
    yMin: 0, yMax: 210, yTicks: [100, 200], yTickFont: 13, sci: null,
    yTitle: 'x (km)', yTitleFont: 15, yTitleBold: true, yTitlePad: 33, shade: null,
    datasets: curveSet(kmDays, kmVals),
  },
  {
    top: 333, height: 122, area: { l: 79, t: 338, r: 709, b: 416 }, xMax: 20,
    tickDays: aTickDays, tickDates: aTickDates, xFont: 14,
    yMin: -85, yMax: 90, yTicks: [-60, 0, 60], yTickFont: 13, sci: null,
    yTitle: '\u03d5 (deg)', yTitleFont: 15, yTitleBold: true, yTitlePad: 33, shade: null,
    datasets: curveSet(phiDays, phiVals),
  },
  {
    top: 498, height: 205, area: { l: 64, t: 508, r: 703, b: 668 }, xMax: 30,
    tickDays: bTickDays, tickDates: bTickDates, xFont: 12,
    yMin: -0.02, yMax: 3.04, yTicks: [1, 2, 3], yTickFont: 10,
    sci: { values: [1, 2, 3], mantissas: ['1.', '2.', '3.'], exp: '13', base: 9, sup: 6.5 },
    yTitle: MOL, yTitleFont: 14, yTitleBold: false, yTitlePad: 4, shade: null,
    datasets: measurementSets(bDays, bObs, bModel, bOutDays, bOutVals),
  },
  {
    top: 733, height: 205, area: { l: 65, t: 743, r: 703, b: 903 }, xMax: 28,
    tickDays: cTickDays, tickDates: cTickDates, xFont: 12,
    yMin: 0, yMax: 3.35, yTicks: [1, 2, 3], yTickFont: 10,
    sci: { values: [1, 2, 3], mantissas: ['1.', '2.', '3.'], exp: '13', base: 10, sup: 7 },
    yTitle: MOL, yTitleFont: 14, yTitleBold: false, yTitlePad: 3, shade: null,
    datasets: measurementSets(cDays, cObs, cModel, cOutDays, cOutVals),
  },
  {
    top: 970, height: 200, area: { l: 70, t: 981, r: 703, b: 1139 }, xMax: 30,
    tickDays: dTickDays, tickDates: dTickDates, xFont: 12,
    yMin: 0, yMax: 8.9, yTicks: [1.5, 3, 4.5, 6, 7.5], yTickFont: 10,
    sci: { values: [1.5, 3, 4.5, 6, 7.5], mantissas: ['1.5', '3.', '4.5', '6.', '7.5'], exp: '14', base: 11, sup: 7.5 },
    yTitle: MOL, yTitleFont: 14, yTitleBold: false, yTitlePad: 4, shade: null,
    datasets: measurementSets(dDays, dObs, dModel, dOutDays, dOutVals),
  },
];

const panelLetters = [
  { text: '(a)', x: 14, y: 10 },
  { text: '(b)', x: 14, y: 483 },
  { text: '(c)', x: 14, y: 718 },
  { text: '(d)', x: 14, y: 955 },
];

const dateNotes = [
  { x: 690, y1: 207, y2: 227, size: 14 },
  { x: 686, y1: 428, y2: 447, size: 14 },
  { x: 683, y1: 675, y2: 693, size: 13.5 },
  { x: 683, y1: 910, y2: 928, size: 13.5 },
  { x: 683, y1: 1145, y2: 1163, size: 13.5 },
];

function PanelChart({ spec }: { spec: PanelSpec }) {
  const ref = useRef<HTMLCanvasElement>(null);
  useEffect(() => {
    if (!ref.current) return;
    const chart = buildChart(ref.current, spec);
    return () => chart.destroy();
  }, [spec]);
  return (
    <canvas
      ref={ref}
      width={713}
      height={spec.height}
      style={{ position: 'absolute', left: 0, top: spec.top, width: 713, height: spec.height }}
    />
  );
}

function Label({ text, x, y, size, family }: { text: string; x: number; y: number; size: number; family: string }) {
  return (
    <div
      style={{
        position: 'absolute', left: x, top: y, transform: 'translate(-50%, -50%)',
        fontFamily: family, fontSize: size, color: TEXT, whiteSpace: 'nowrap', lineHeight: 1,
      }}
    >
      {text}
    </div>
  );
}

export default function App() {
  return (
    <div style={{ position: 'absolute', left: 0, top: 0, width: 713, height: 1171, background: '#ffffff', overflow: 'hidden' }}>
      {panels.map((p, i) => (
        <PanelChart key={i} spec={p} />
      ))}
      {panelLetters.map((l) => (
        <Label key={l.text} text={l.text} x={l.x} y={l.y} size={20} family={SERIF} />
      ))}
      {dateNotes.map((n, i) => (
        <React.Fragment key={i}>
          <Label text="date" x={n.x} y={n.y1} size={n.size} family={FONT} />
          <Label text="(UTC)" x={n.x} y={n.y2} size={n.size} family={FONT} />
        </React.Fragment>
      ))}
    </div>
  );
}
